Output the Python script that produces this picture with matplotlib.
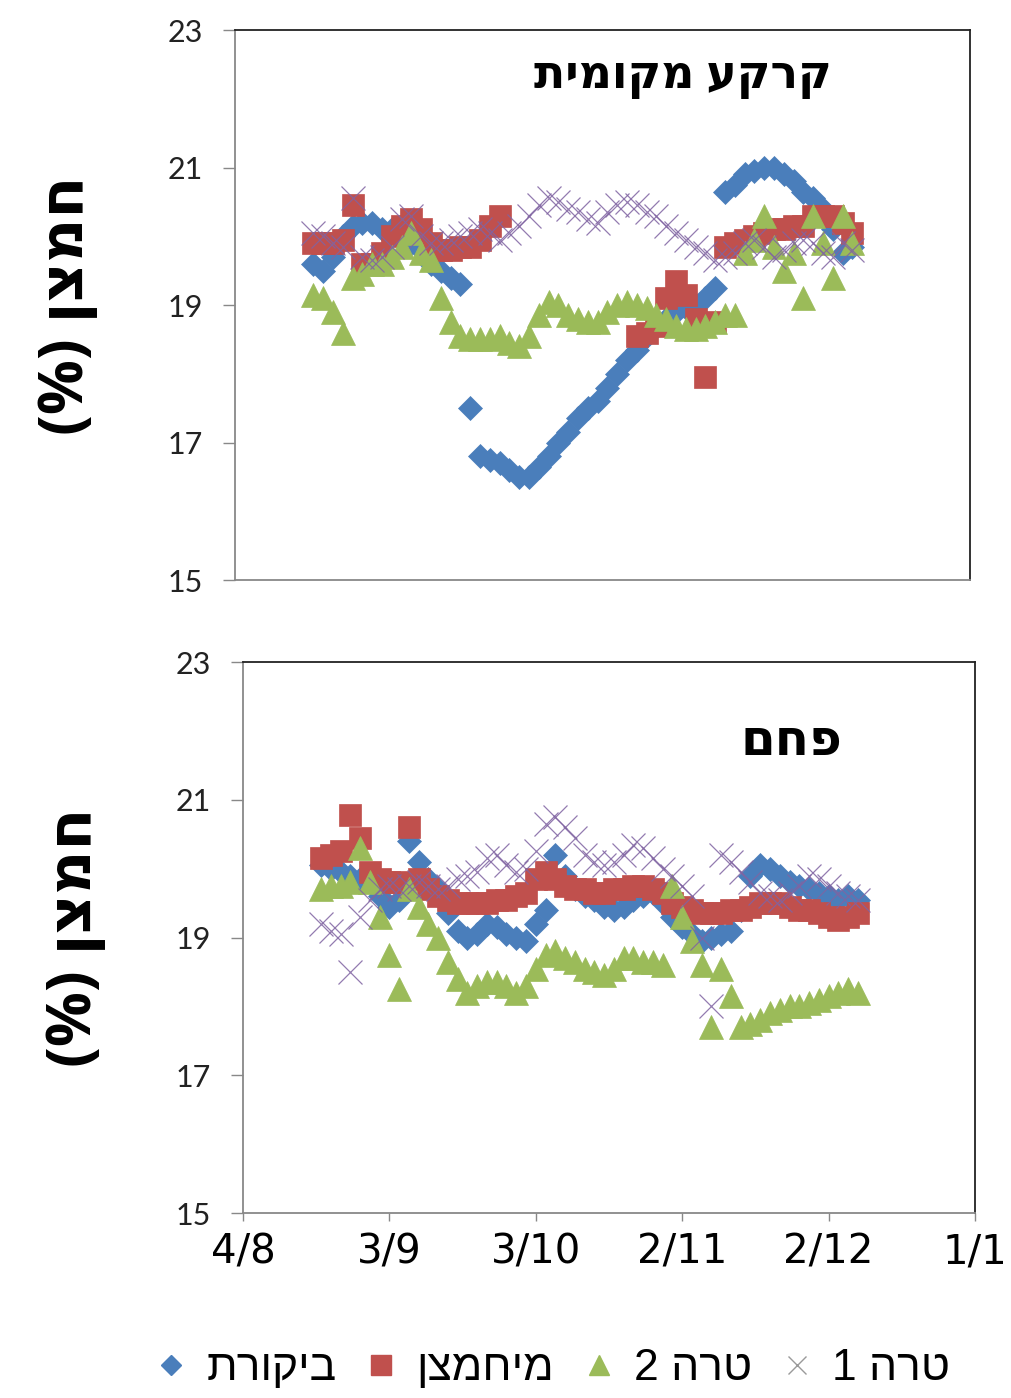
import numpy as np
import matplotlib.pyplot as plt
from matplotlib.lines import Line2D

nan = np.nan

# measurement days, counted from 4/8
days = [16, 18, 20, 22, 24, 26, 28, 30,
        32, 34, 36, 38, 40, 42, 44, 46,
        48, 50, 52, 54, 56, 58, 60, 62,
        64, 66, 68, 70, 72, 74, 76, 78,
        80, 82, 84, 86, 88, 90, 92, 94,
        96, 98, 100, 102, 104, 106, 108, 110,
        112, 114, 116, 118, 120, 122, 124, 126]

tick_days = [0, 30, 60, 90, 120, 150]
tick_labels = ['4/8', '3/9', '3/10', '2/11', '2/12', '1/1']

# top panel - local soil
soil_control = [19.6, 19.5, 19.7, 20.0, 20.15, 20.2, 20.2, 20.1,
                20.1, 20.0, 19.9, 19.8, 19.6, 19.5, 19.4, 19.3,
                17.5, 16.8, 16.75, 16.7, 16.6, 16.5, 16.5, 16.65,
                16.8, 17.0, 17.15, 17.35, 17.5, 17.6, 17.8, 18.0,
                18.2, 18.35, 18.55, 18.7, 18.8, 18.9, 18.95, 19.0,
                19.1, 19.25, 20.65, 20.75, 20.9, 20.95, 21.0, 21.0,
                20.9, 20.8, 20.65, 20.55, 20.4, 20.1, 19.75, 19.85]
soil_oxid = [19.9, 19.9, 19.9, 19.95, 20.45, 19.6, 19.6, 19.75,
             20.0, 20.15, 20.25, 20.1, 19.9, 19.8, 19.8, 19.85,
             19.85, 19.95, 20.15, 20.3, nan, nan, nan, nan,
             nan, nan, nan, nan, nan, nan, nan, nan,
             nan, 18.55, 18.6, 18.7, 19.1, 19.35, 19.15, 18.8,
             17.95, 18.75, 19.85, 19.9, 19.95, 20.0, 20.05, 20.1,
             20.1, 20.15, 20.15, 20.3, 20.3, 20.3, 20.2, 20.05]
soil_terra2 = [19.15, 19.1, 18.9, 18.6, 19.4, 19.45, 19.6, 19.6,
               19.7, 19.85, 20.05, 19.75, 19.65, 19.1, 18.75, 18.55,
               18.5, 18.5, 18.5, 18.55, 18.45, 18.4, 18.55, 18.85,
               19.05, 19.0, 18.85, 18.8, 18.75, 18.75, 18.9, 19.0,
               19.05, 19.0, 18.95, 18.85, 18.8, 18.7, 18.65, 18.65,
               18.7, 18.75, 18.85, 18.85, 19.75, 19.95, 20.3, 19.85,
               19.5, 19.75, 19.1, 20.3, 19.9, 19.4, 20.3, 19.9]
soil_terra1 = [20.05, 20.0, 19.9, 19.85, 20.55, 19.7, 19.65, 19.7,
               19.85, 20.25, 20.3, 20.0, 19.9, 19.9, 19.95, 20.0,
               20.05, 20.1, 20.05, 19.95, 20.05, 20.15, 20.3, 20.45,
               20.55, 20.5, 20.4, 20.35, 20.25, 20.2, 20.35, 20.45,
               20.5, 20.45, 20.35, 20.3, 20.15, 20.05, 19.95, 19.85,
               19.75, 19.65, 19.7, 19.75, 19.9, 19.95, 19.85, 19.7,
               19.8, 19.9, 19.95, 19.9, 19.75, 19.7, 19.9, 19.8]

# bottom panel - charcoal
coal_control = [20.05, 20.0, 19.95, 19.9, 19.85, 19.8, 19.6, 19.45,
                19.55, 20.4, 20.1, 19.85, 19.7, 19.35, 19.1, 19.0,
                19.05, 19.2, 19.15, 19.05, 19.0, 18.95, 19.2, 19.4,
                20.2, 19.9, 19.7, 19.6, 19.55, 19.45, 19.4, 19.45,
                19.55, 19.6, 19.65, 19.5, 19.3, 19.15, 19.05, 18.95,
                19.0, 19.05, 19.1, 19.4, 19.9, 20.05, 20.0, 19.9,
                19.8, 19.75, 19.7, 19.65, 19.6, 19.55, 19.6, 19.55]
coal_oxid = [20.15, 20.2, 20.25, 20.78, 20.45, 19.95, 19.85, 19.8,
             19.8, 20.6, 19.85, 19.7, 19.6, 19.55, 19.5, 19.5,
             19.5, 19.5, 19.55, 19.55, 19.6, 19.65, 19.85, 19.95,
             19.85, 19.75, 19.7, 19.7, 19.65, 19.65, 19.7, 19.7,
             19.75, 19.75, 19.7, 19.65, 19.5, 19.45, 19.4, 19.35,
             19.35, 19.35, 19.4, 19.4, 19.45, 19.5, 19.5, 19.5,
             19.45, 19.4, 19.4, 19.35, 19.3, 19.25, 19.3, 19.35]
coal_terra2 = [19.7, 19.75, 19.75, 19.8, 20.3, 19.8, 19.3, 18.75,
               18.25, 19.7, 19.45, 19.2, 19.0, 18.65, 18.4, 18.2,
               18.3, 18.35, 18.35, 18.3, 18.2, 18.3, 18.55, 18.75,
               18.8, 18.7, 18.65, 18.55, 18.5, 18.45, 18.55, 18.7,
               18.7, 18.65, 18.65, 18.6, 19.75, 19.3, 18.95, 18.6,
               17.7, 18.55, 18.15, 17.7, 17.75, 17.8, 17.9, 17.95,
               18.0, 18.0, 18.05, 18.1, 18.15, 18.2, 18.25, 18.2]
coal_terra1 = [19.2, 19.1, 19.05, 18.5, 19.3, 19.55, 19.7, 19.75,
               19.7, 19.75, 19.8, 19.75, 19.7, 19.75, 19.85, 19.9,
               19.95, 20.15, 20.2, 20.05, 19.95, 20.0, 20.25, 20.65,
               20.75, 20.6, 20.45, 20.2, 20.1, 20.05, 20.1, 20.2,
               20.35, 20.3, 20.15, 20.0, 19.9, 19.75, 19.6, 19.0,
               18.0, 20.2, 20.1, 19.95, 19.8, 19.65, 19.6, 19.55,
               19.65, 19.75, 19.9, 19.85, 19.75, 19.65, 19.6, 19.55]

series_names = ['ביקורת', 'מיחמצן', 'טרה 2', 'טרה 1']
colors = ['#4a7ebb', '#c0504d', '#9bbb59', '#8064a2']
markers = ['D', 's', '^', 'x']
sizes = [12.5, 16, 17, 17]


def rtl(s):
    # matplotlib draws glyphs left to right, so flip hebrew by hand
    return s[::-1].translate(str.maketrans('()', ')('))


hebrew_bold = ['Open Sans', 'DejaVu Sans']

fig = plt.figure(figsize=(10.12, 13.98), dpi=100)
ax_top = fig.add_axes([0.2322, 0.5851, 0.7263, 0.3934])
ax_bot = fig.add_axes([0.2401, 0.1323, 0.7233, 0.3941])

panels = [(ax_top, [soil_control, soil_oxid, soil_terra2, soil_terra1], 'קרקע מקומית', (0.61, 0.918), 33),
          (ax_bot, [coal_control, coal_oxid, coal_terra2, coal_terra1], 'פחם', (0.749, 0.855), 36)]

for ax, data, title, tpos, tsize in panels:
    for vals, c, m, ms in zip(data, colors, markers, sizes):
        if m == 'x':
            ax.plot(days, vals, linestyle='none', marker=m, markersize=ms,
                    markeredgecolor=c, markeredgewidth=0.9, alpha=0.85)
        else:
            ax.plot(days, vals, linestyle='none', marker=m, markersize=ms,
                    markerfacecolor=c, markeredgecolor=c, markeredgewidth=0.5)
    ax.set_xlim(0, 150)
    ax.set_ylim(15, 23)
    ax.set_yticks([15, 17, 19, 21, 23])
    ax.tick_params(axis='y', direction='out', length=9, width=1, color='#888888',
                   pad=14, labelsize=22, labelcolor='#222222')
    for lab in ax.get_yticklabels():
        lab.set_family('Lato')
    ax.spines['left'].set_color('#888888')
    ax.spines['bottom'].set_color('#888888')
    ax.spines['top'].set_color('#222222')
    ax.spines['right'].set_color('#222222')
    for sp in ax.spines.values():
        sp.set_linewidth(1.3)
    ax.text(tpos[0], tpos[1], rtl(title), transform=ax.transAxes, ha='center', va='center',
            fontsize=tsize, fontweight='bold', family=hebrew_bold)
    ax.set_ylabel(rtl('חמצן (%)'), fontsize=44, fontweight='bold', family=hebrew_bold,
                  labelpad=50)

ax_top.set_xticks(tick_days)
ax_top.tick_params(axis='x', length=0, labelbottom=False)
ax_bot.set_xticks(tick_days)
ax_bot.set_xticklabels(tick_labels)
ax_bot.tick_params(axis='x', direction='out', length=6, width=1, color='#888888',
                   pad=8, labelsize=29)

handles = []
for c, m in zip(colors, markers):
    if m == 'x':
        handles.append(Line2D([], [], linestyle='none', marker=m, markersize=13,
                              markeredgecolor='#9a9a9a', markeredgewidth=1))
    else:
        handles.append(Line2D([], [], linestyle='none', marker=m,
                              markersize=10 if m == 'D' else 14,
                              markerfacecolor=c, markeredgecolor=c))
fig.legend(handles, [rtl(s) for s in series_names], loc='center',
           bbox_to_anchor=(0.545, 0.021), ncol=4, frameon=False,
           handlelength=0.8, handletextpad=0.4, columnspacing=0.6,
           prop={'family': ['Liberation Sans', 'DejaVu Sans'], 'size': 32})

fig.savefig('out.png', dpi=100)
